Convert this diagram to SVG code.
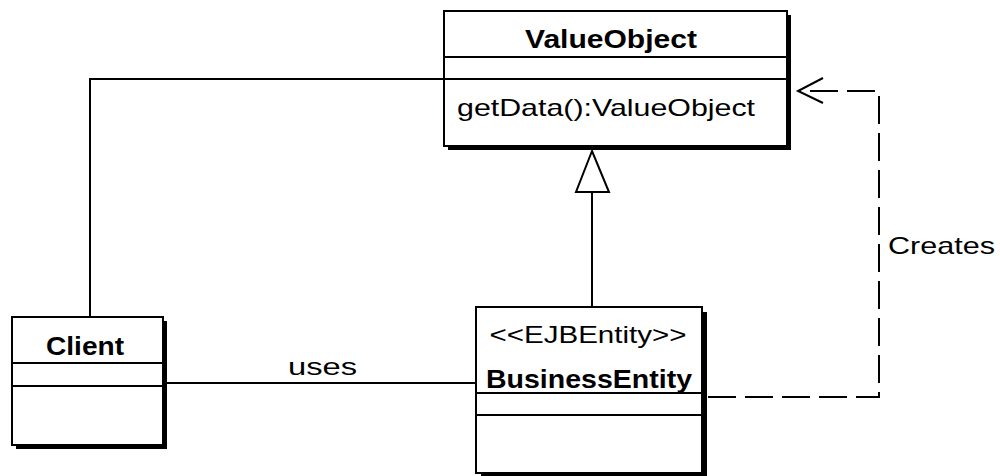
<svg xmlns="http://www.w3.org/2000/svg" width="1000" height="476" viewBox="0 0 1000 476">
<style>
  .box { fill: #fff; stroke: #000; stroke-width: 2; }
  .shadow { fill: #000; }
  .div { stroke: #000; stroke-width: 2; }
  .title { font-family: "Liberation Sans", Arial, sans-serif; font-weight: bold; font-size: 25px; fill: #000; }
  .txt { font-family: "Liberation Sans", Arial, sans-serif; font-size: 24px; fill: #000; }
  .conn { fill: none; stroke: #000; stroke-width: 2; }
  .dash { fill: none; stroke: #000; stroke-width: 2; stroke-dasharray: 28 9; }
</style>
<rect width="1000" height="476" fill="#fff"/>
<g id="connectors">
  <polyline class="conn" points="90,317 90,79 444,79"/>
  <line class="conn" x1="167" y1="383" x2="476" y2="383"/>
  <text class="txt" x="288" y="375" textLength="69" lengthAdjust="spacingAndGlyphs">uses</text>
  <line class="conn" x1="592" y1="307" x2="592" y2="192"/>
  <polygon class="conn" points="592,151 576,192 609,192" style="fill:#fff"/>
  <polyline class="dash" points="708,397 879,397 879,91 800,91"/>
  <polyline class="conn" points="823,78 798,91 823,103"/>
  <text class="txt" x="888" y="254" textLength="107" lengthAdjust="spacingAndGlyphs">Creates</text>
</g>
<g id="ValueObject">
  <rect class="shadow" x="448" y="15" width="343" height="135"/>
  <rect class="box" x="444" y="11" width="343" height="135"/>
  <line class="div" x1="444" y1="57" x2="787" y2="57"/>
  <line class="div" x1="444" y1="79" x2="787" y2="79"/>
  <text class="title" x="611" y="48" text-anchor="middle" textLength="172" lengthAdjust="spacingAndGlyphs">ValueObject</text>
  <text class="txt" x="457" y="116" textLength="298" lengthAdjust="spacingAndGlyphs">getData():ValueObject</text>
</g>
<g id="Client">
  <rect class="shadow" x="16" y="321" width="151" height="128"/>
  <rect class="box" x="12" y="317" width="151" height="128"/>
  <line class="div" x1="12" y1="363" x2="163" y2="363"/>
  <line class="div" x1="12" y1="386" x2="163" y2="386"/>
  <text class="title" x="85" y="355" text-anchor="middle" textLength="78" lengthAdjust="spacingAndGlyphs">Client</text>
</g>
<g id="BusinessEntity">
  <rect class="shadow" x="481" y="312" width="226" height="166"/>
  <rect class="box" x="476" y="307" width="226" height="166"/>
  <line class="div" x1="476" y1="393" x2="702" y2="393"/>
  <line class="div" x1="476" y1="415" x2="702" y2="415"/>
  <text class="txt" x="588" y="343" text-anchor="middle" textLength="197" lengthAdjust="spacingAndGlyphs">&lt;&lt;EJBEntity&gt;&gt;</text>
  <text class="title" x="589" y="388" text-anchor="middle" textLength="206" lengthAdjust="spacingAndGlyphs">BusinessEntity</text>
</g>
</svg>
